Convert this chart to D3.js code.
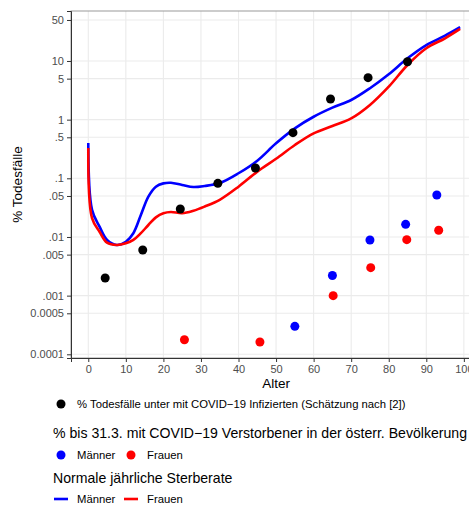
<!DOCTYPE html>
<html lang="de">
<head>
<meta charset="utf-8">
<script src="https://d3js.org/d3.v7.min.js"></script>
<style>
  body { margin: 0; background: #fff; }
  svg { display: block; font-family: "Liberation Sans", Arial, sans-serif; }
</style>
</head>
<body>
<div id="chart"></div>
<script>
// estimated infection fatality rate by age (black points)
const ifrAge = [4.5, 14.5, 24.5, 34.5, 44.5, 54.5, 64.5, 74.5, 85];
const ifrPct = [0.002, 0.006, 0.03, 0.082, 0.15, 0.6, 2.25, 5.2, 9.7];

// COVID-19 deaths in the Austrian population up to 31.3.
const covMenAge = [55, 65, 75, 84.5, 92.8];
const covMenPct = [0.0003, 0.0022, 0.0089, 0.0164, 0.052];
const covWomenAge = [25.6, 45.7, 65.2, 75.2, 84.8, 93.3];
const covWomenPct = [0.000177, 0.000162, 0.001, 0.003, 0.009, 0.013];

// normal annual mortality
const mortAge = [0, 1, 3, 5, 7.6, 10, 12, 14, 16, 18, 20, 22, 25, 28, 31, 35, 40, 45, 50, 55, 60, 65, 70, 75, 80, 85, 90, 95, 99];
const mortMen = [0.40, 0.029, 0.015, 0.0089, 0.0073, 0.0083, 0.0116, 0.0237, 0.0487, 0.072, 0.082, 0.084, 0.077, 0.071, 0.074, 0.083, 0.122, 0.2, 0.395, 0.71, 1.12, 1.6, 2.16, 3.43, 5.93, 11.1, 18.7, 27, 37.6];
const mortWomen = [0.33, 0.021, 0.0123, 0.0080, 0.0073, 0.0078, 0.0089, 0.0116, 0.016, 0.0216, 0.0254, 0.0267, 0.0254, 0.028, 0.033, 0.043, 0.072, 0.13, 0.215, 0.37, 0.585, 0.78, 1.05, 1.78, 3.65, 8.55, 16.5, 24.4, 35.2];

const xTicks = [0, 10, 20, 30, 40, 50, 60, 70, 80, 90, 100];
const yTicks = [50, 10, 5, 1, 0.5, 0.1, 0.05, 0.01, 0.005, 0.001, 0.0005, 0.0001];
const yTickLabels = ["50", "10", "5", "1", ".5", ".1", ".05", ".01", ".005", ".001", "0.0005", "0.0001"];

const W = 469, H = 506;
const panel = { left: 71, top: 11, right: 474, bottom: 358 };

const svg = d3.select("#chart").append("svg")
  .attr("width", W).attr("height", H);

const x = d3.scaleLinear().domain([-4.6, 102.7]).range([panel.left, panel.right]);
const y = d3.scaleLog().domain([Math.pow(10, -4.063), Math.pow(10, 1.852)]).range([panel.bottom, panel.top]);

// grid
const grid = svg.append("g");
grid.selectAll(".gx").data(xTicks).join("line")
  .attr("x1", d => x(d)).attr("x2", d => x(d))
  .attr("y1", panel.top).attr("y2", panel.bottom)
  .attr("stroke", "#ebebeb").attr("stroke-width", 1.1);
grid.selectAll(".gy").data(yTicks).join("line")
  .attr("x1", panel.left).attr("x2", panel.right)
  .attr("y1", d => y(d)).attr("y2", d => y(d))
  .attr("stroke", "#ebebeb").attr("stroke-width", 1.1);

// border
svg.append("rect")
  .attr("x", panel.left).attr("y", panel.top)
  .attr("width", panel.right - panel.left).attr("height", panel.bottom - panel.top)
  .attr("fill", "none").attr("stroke", "#9a9a9a").attr("stroke-width", 1);

// axes
const xAxis = svg.append("g")
  .attr("transform", `translate(0,${panel.bottom})`)
  .call(d3.axisBottom(x).tickValues(xTicks).tickSize(4).tickPadding(3));
const yAxis = svg.append("g")
  .attr("transform", `translate(${panel.left},0)`)
  .call(d3.axisLeft(y).tickValues(yTicks).tickFormat((d, i) => yTickLabels[i]).tickSize(4).tickPadding(3));
[xAxis, yAxis].forEach(a => {
  a.select(".domain").attr("stroke", "#333");
  a.selectAll(".tick line").attr("stroke", "#333");
  a.selectAll(".tick text").attr("fill", "#4d4d4d").attr("font-size", 11)
    .attr("font-family", "Liberation Sans, Arial, sans-serif");
});

svg.append("text").attr("x", x(50)).attr("y", 388)
  .attr("text-anchor", "middle").attr("font-size", 13.5).text("Alter");
svg.append("text")
  .attr("transform", `translate(22,${(panel.top + panel.bottom) / 2}) rotate(-90)`)
  .attr("text-anchor", "middle").attr("font-size", 13.5).text("% Todesfälle");

// lines
const line = vals => d3.line()
  .x((d, i) => x(mortAge[i]))
  .y(d => y(d))
  .curve(d3.curveCatmullRom.alpha(0.5))(vals);
svg.append("path").attr("d", line(mortMen))
  .attr("fill", "none").attr("stroke", "#0000ff").attr("stroke-width", 2.6);
svg.append("path").attr("d", line(mortWomen))
  .attr("fill", "none").attr("stroke", "#ff0000").attr("stroke-width", 2.6);

// points
const dots = (ages, vals, color) => svg.append("g").selectAll("circle")
  .data(vals).join("circle")
  .attr("cx", (d, i) => x(ages[i])).attr("cy", d => y(d))
  .attr("r", 4.5).attr("fill", color);
dots(covMenAge, covMenPct, "#0000ff");
dots(covWomenAge, covWomenPct, "#ff0000");
dots(ifrAge, ifrPct, "#000");

// legend
const lg = svg.append("g");
lg.append("circle").attr("cx", 61).attr("cy", 404).attr("r", 4.5).attr("fill", "#000");
lg.append("text").attr("x", 77).attr("y", 408).attr("font-size", 11.3)
  .text("% Todesfälle unter mit COVID\u221219 Infizierten (Schätzung nach [2])");

lg.append("text").attr("x", 53).attr("y", 438).attr("font-size", 14.1)
  .text("% bis 31.3. mit COVID\u221219 Verstorbener in der österr. Bevölkerung");
lg.append("circle").attr("cx", 61).attr("cy", 455).attr("r", 4.5).attr("fill", "#0000ff");
lg.append("text").attr("x", 77).attr("y", 459).attr("font-size", 11.3).text("Männer");
lg.append("circle").attr("cx", 131).attr("cy", 455).attr("r", 4.5).attr("fill", "#ff0000");
lg.append("text").attr("x", 147).attr("y", 459).attr("font-size", 11.3).text("Frauen");

lg.append("text").attr("x", 53).attr("y", 483).attr("font-size", 14.1)
  .text("Normale jährliche Sterberate");
lg.append("line").attr("x1", 54).attr("x2", 68).attr("y1", 499).attr("y2", 499)
  .attr("stroke", "#0000ff").attr("stroke-width", 2.6);
lg.append("text").attr("x", 77).attr("y", 503).attr("font-size", 11.3).text("Männer");
lg.append("line").attr("x1", 124).attr("x2", 138).attr("y1", 499).attr("y2", 499)
  .attr("stroke", "#ff0000").attr("stroke-width", 2.6);
lg.append("text").attr("x", 147).attr("y", 503).attr("font-size", 11.3).text("Frauen");
</script>
</body>
</html>
